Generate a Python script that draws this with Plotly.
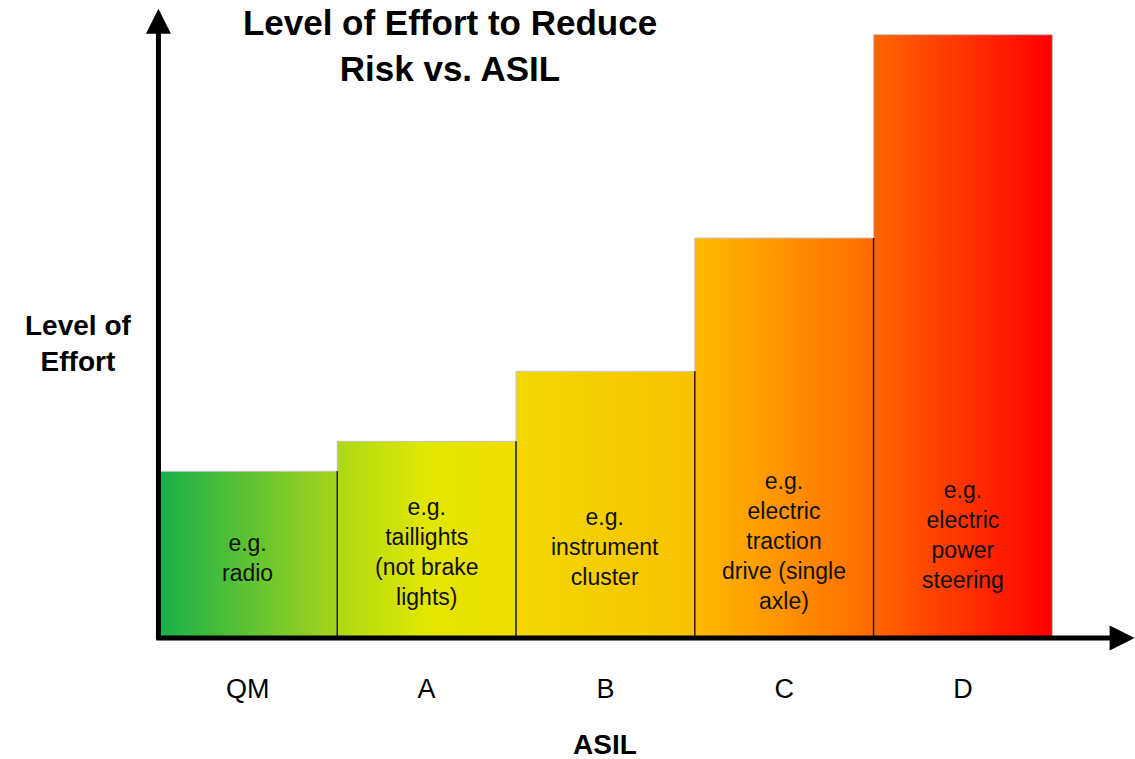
import plotly.graph_objects as go

# ---- data ----
categories = ["QM", "A", "B", "C", "D"]
effort = [2.5, 2.95, 4.0, 6.0, 9.05]
examples = [
    "e.g.<br>radio",
    "e.g.<br>taillights<br>(not brake<br>lights)",
    "e.g.<br>instrument<br>cluster",
    "e.g.<br>electric<br>traction<br>drive (single<br>axle)",
    "e.g.<br>electric<br>power<br>steering",
]

# ---- styles ----
gradients = [
    ["#16b04c", "#a6d41a"],
    ["#acd816", "#e2e600", "#f0dc00"],
    ["#f2d800", "#f8c200"],
    ["#ffba00", "#ff6a00"],
    ["#ff6600", "#ff0000"],
]
FONT = "Liberation Sans, Arial, sans-serif"
label_base, label_step = 1.2, 0.085

fig = go.Figure()

for i, (cat, v) in enumerate(zip(categories, effort)):
    cols = gradients[i]
    n = len(cols)
    cs = [[k / (n - 1), c] for k, c in enumerate(cols)]
    fig.add_trace(go.Scatter(
        x=[i - 0.5, i - 0.5, i + 0.5, i + 0.5, i - 0.5],
        y=[0, v, v, 0, 0],
        mode="lines",
        fill="toself",
        fillgradient=dict(type="horizontal", colorscale=cs),
        line=dict(color="#c4c4c4", width=1),
        hoverinfo="skip",
        showlegend=False,
    ))

# dark dividers (right edge of each bar except the last)
for i, v in enumerate(effort[:-1]):
    fig.add_trace(go.Scatter(
        x=[i + 0.5, i + 0.5], y=[0, v], mode="lines",
        line=dict(color="#1e1e1e", width=1.5),
        hoverinfo="skip", showlegend=False,
    ))

# text inside bars
for i, t in enumerate(examples):
    fig.add_annotation(x=i, y=label_base + label_step * i, text=t, showarrow=False,
                       font=dict(family=FONT, size=23, color="#111111"),
                       xanchor="center", yanchor="middle", align="center")

# axis arrows
x_lo, x_hi = -0.508, 4.962
y_hi = 9.45
fig.add_annotation(x=4.96, y=0, ax=-0.52, ay=0, xref="x", yref="y",
                   axref="x", ayref="y", showarrow=True, arrowhead=2,
                   arrowsize=1.0, arrowwidth=5, arrowcolor="#000000", text="")
fig.add_annotation(x=-0.5, y=9.44, ax=-0.5, ay=-0.04, xref="x", yref="y",
                   axref="x", ayref="y", showarrow=True, arrowhead=2,
                   arrowsize=1.0, arrowwidth=5, arrowcolor="#000000", text="")

# axis titles
fig.add_annotation(x=0, y=0.468, xref="paper", yref="paper", xshift=-79,
                   text="<b>Level of<br>Effort</b>", showarrow=False,
                   font=dict(family=FONT, size=28, color="#000000"),
                   xanchor="center", yanchor="middle", align="center")
fig.add_annotation(x=(2 - x_lo) / (x_hi - x_lo), y=0, xref="paper", yref="paper",
                   yshift=-106, text="<b>ASIL</b>", showarrow=False,
                   font=dict(family=FONT, size=28, color="#000000"),
                   xanchor="center", yanchor="middle")

fig.update_layout(
    width=1135, height=759,
    margin=dict(l=157, r=0, t=8, b=121),
    paper_bgcolor="white", plot_bgcolor="white",
    title=dict(text="<b>Level of Effort to Reduce<br>Risk vs. ASIL</b>",
               x=450 / 1135, xanchor="center", xref="container",
               y=1 - 35 / 759, yanchor="middle", yref="container",
               font=dict(family=FONT, size=35, color="#000000")),
    xaxis=dict(range=[x_lo, x_hi], showgrid=False, zeroline=False,
               showline=False, ticks="", tickmode="array",
               tickvals=list(range(len(categories))), ticktext=categories,
               tickfont=dict(family=FONT, size=27, color="#000000"),
               ticklabelstandoff=32, fixedrange=True),
    yaxis=dict(range=[0, y_hi], showgrid=False, zeroline=False,
               showline=False, showticklabels=False, ticks="",
               fixedrange=True),
    showlegend=False,
)

fig.write_html(
    "out.html",
    config={"displayModeBar": False},
    post_script="document.body.style.margin='0';document.body.style.overflow='hidden';",
)
